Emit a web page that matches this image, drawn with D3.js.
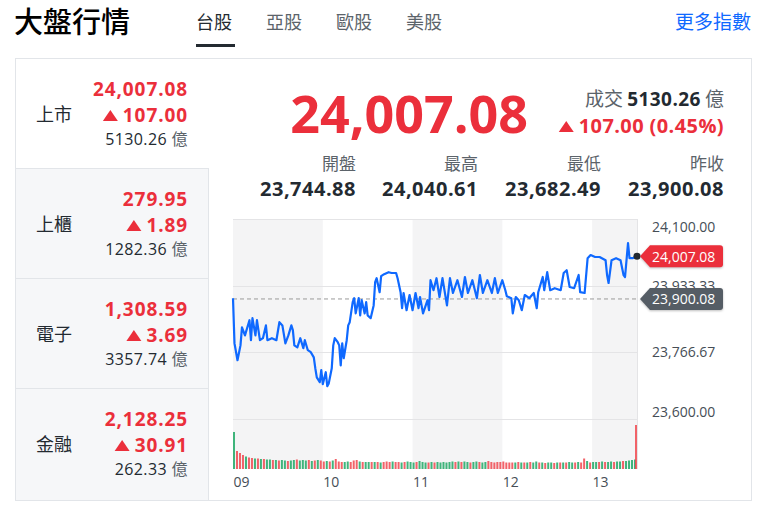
<!DOCTYPE html>
<html>
<head>
<meta charset="utf-8">
<script src="https://cdn.jsdelivr.net/npm/d3@7"></script>
<style>
  body { margin: 0; background: #fff; }
  svg text { font-family: "Open Sans", "Noto Sans CJK TC", sans-serif; }
  svg text.cjk, svg tspan.cjk { font-family: "Noto Sans CJK TC", "Open Sans", sans-serif; }
</style>
</head>
<body>
<svg id="chart" width="767" height="516"></svg>
<script>
// ---- data ----
const tabs = ["台股", "亞股", "歐股", "美股"];
const indexNames = ["上市", "上櫃", "電子", "金融"];
const indexPrices = ["24,007.08", "279.95", "1,308.59", "2,128.25"];
const indexChanges = ["107.00", "1.89", "3.69", "30.91"];
const indexVolumes = ["5130.26", "1282.36", "3357.74", "262.33"];
const statLabels = ["開盤", "最高", "最低", "昨收"];
const statValues = [23744.88, 24040.61, 23682.49, 23900.08];
const lastPrice = 24007.08;
const prevClose = 23900.08;
const priceChange = 107.00;
const changePct = 0.45;
const turnover = "5130.26";
const yTicks = [23600, 23766.67, 23933.33, 24100];
const hourTicks = [0, 60, 120, 180, 240];
const hourLabels = ["09", "10", "11", "12", "13"];

// minutes after 09:00 and index level
const priceMinutes = [0,1,3,5,6,8,11,12,13,15,16,18,20,22,23,26,29,31,33,35,37,39,40,41,43,45,47,48,50,52,
  54,55,56,58,59,60,62,63,64,66,67,68,70,71,72,73,74,76,77,78,80,81,82,84,85,86,88,89,90,92,
  94,95,96,98,99,101,104,106,109,110,112,113,114,116,118,120,122,124,125,127,130,131,132,134,136,138,140,143,145,147,
  150,153,155,157,160,163,165,167,170,173,175,177,180,182,183,186,187,189,191,193,195,198,201,203,204,207,208,210,212,215,
  219,221,223,225,228,231,232,235,237,239,242,245,249,250,251,253,256,259,261,262,264,265,267,270];
const priceValues = [23902,23789,23747,23784,23829,23809,23847,23797,23852,23809,23847,23797,23802,23834,23797,23802,23797,23842,23834,23789,23809,23834,23822,23784,23779,23802,23777,23797,23772,23767,
  23754,23727,23704,23692,23722,23687,23717,23682,23689,23727,23784,23802,23792,23784,23734,23789,23752,23797,23834,23842,23892,23902,23864,23902,23859,23897,23864,23892,23859,23852,
  23884,23942,23952,23917,23957,23962,23967,23965,23965,23952,23917,23877,23915,23872,23910,23872,23915,23877,23905,23864,23897,23872,23947,23922,23952,23905,23952,23884,23952,23915,
  23947,23905,23955,23915,23947,23902,23960,23915,23947,23915,23952,23915,23947,23922,23907,23902,23864,23905,23897,23872,23910,23902,23915,23877,23917,23955,23922,23967,23922,23927,
  23922,23965,23972,23930,23927,23960,23917,23915,24002,24010,24005,24005,23997,23960,23940,23997,24002,23997,23960,23955,24040,24002,24002,24007.08];

// volume every 2 minutes, last bar is the 13:30 close
const volumeMinutes = d3.range(0, 270, 2).concat([270]);
const volumeValues = [148,72,64,56,50,46,44,42,42,40,
  40,38,38,36,36,34,36,34,32,34,
  36,38,34,36,34,36,32,34,36,34,
  30,32,30,34,40,30,28,28,30,28,
  34,36,30,28,28,28,28,28,28,26,
  28,30,28,30,28,28,26,28,30,28,
  26,28,32,28,26,26,28,26,28,26,
  28,26,28,30,28,30,28,30,28,26,
  28,30,28,26,28,32,28,26,28,28,
  30,26,26,26,26,28,26,26,26,28,
  26,30,26,26,24,26,26,24,26,26,
  26,26,28,26,26,28,26,42,32,26,
  28,28,28,30,28,28,30,28,30,30,
  32,32,34,36,38,176];
const volumeSides = ["d","uuuduud","ududdud","udduddu","dddud","udu","ududuu","udduuu","duddud","uduuud",
  "uududd","dudddu","dudddd","ddudud","duddud","duuuuu","uuuudu","dududd","ududdu","dududd",
  "uduudu","ddudud","duddud","ddd","u"].join("").split("");

// ---- styles ----
const RED = "#eb2f3b";
const DARK = "#232a31";
const GRAY = "#5b636a";
const BLUE = "#0f69ff";

const svg = d3.select("#chart");

// header
svg.append("text").attr("class", "cjk")
  .attr("x", 14).attr("y", 33)
  .attr("font-size", 29).attr("font-weight", 500).attr("fill", "#000")
  .text("大盤行情");

svg.selectAll(".tab").data(tabs).enter().append("text")
  .attr("class", "cjk tab")
  .attr("x", (d, i) => 196 + i * 70).attr("y", 29)
  .attr("font-size", 18)
  .attr("fill", (d, i) => i === 0 ? DARK : GRAY)
  .text(d => d);
svg.append("rect").attr("x", 196).attr("y", 44).attr("width", 39).attr("height", 3).attr("fill", DARK);

svg.append("text").attr("class", "cjk")
  .attr("x", 751).attr("y", 29).attr("text-anchor", "end")
  .attr("font-size", 19).attr("fill", BLUE)
  .text("更多指數");

// panel
svg.append("rect")
  .attr("x", 15.5).attr("y", 58.5).attr("width", 736).attr("height", 442)
  .attr("fill", "none").attr("stroke", "#e2e5e9");

function upTriangle(g, xRight, y) {
  g.append("path")
    .attr("d", `M${xRight - 15},${y - 1}L${xRight},${y - 1}L${xRight - 7.5},${y - 12}Z`)
    .attr("fill", RED);
}

function changeText(g, xRight, y, str, size, spacing) {
  const t = g.append("text")
    .attr("x", xRight).attr("y", y).attr("text-anchor", "end")
    .attr("font-size", size).attr("font-weight", 700).attr("fill", RED)
    .attr("letter-spacing", spacing)
    .text(str);
  const w = t.node().getComputedTextLength();
  upTriangle(g, xRight - w - 5, y);
}

// left column
const rowTops = [58, 168, 278, 388];
const left = svg.append("g");
rowTops.forEach((top, i) => {
  const h = i === 3 ? 500 - top : 110;
  left.append("rect")
    .attr("x", 16).attr("y", top + 1).attr("width", 192).attr("height", h - 1)
    .attr("fill", i === 0 ? "#fff" : "#f6f7f9");
  if (i > 0) {
    left.append("line").attr("x1", 16).attr("x2", 208).attr("y1", top + 0.5).attr("y2", top + 0.5)
      .attr("stroke", "#e2e5e9");
  }
  left.append("text").attr("class", "cjk")
    .attr("x", 36).attr("y", top + 55).attr("dominant-baseline", "central")
    .attr("font-size", 18).attr("fill", DARK)
    .text(indexNames[i]);
  left.append("text")
    .attr("x", 188).attr("y", top + 38).attr("text-anchor", "end")
    .attr("font-size", 19).attr("font-weight", 700).attr("fill", RED)
    .attr("letter-spacing", 0.9)
    .text(indexPrices[i]);
  changeText(left, 188, top + 64, indexChanges[i], 19, 0.9);
  const v = left.append("text")
    .attr("x", 188).attr("y", top + 87).attr("text-anchor", "end")
    .attr("font-size", 16).attr("fill", DARK)
    .attr("letter-spacing", 0.4);
  v.append("tspan").text(indexVolumes[i] + " ");
  v.append("tspan").attr("class", "cjk").attr("fill", GRAY).text("億");
});
left.append("line").attr("x1", 208.5).attr("x2", 208.5).attr("y1", 168).attr("y2", 500)
  .attr("stroke", "#e2e5e9");

// quote block
svg.append("text")
  .attr("x", 528).attr("y", 133).attr("text-anchor", "end")
  .attr("font-size", 52).attr("font-weight", 700).attr("fill", RED)
  .text(d3.format(",.2f")(lastPrice));

const tv = svg.append("text")
  .attr("x", 724).attr("y", 106).attr("text-anchor", "end")
  .attr("font-size", 19).attr("fill", GRAY);
tv.append("tspan").attr("class", "cjk").text("成交 ");
tv.append("tspan").attr("font-weight", 700).attr("fill", DARK).attr("letter-spacing", 0.4).text(turnover);
tv.append("tspan").attr("class", "cjk").text(" 億");

changeText(svg, 724, 133, `${priceChange.toFixed(2)} (${changePct.toFixed(2)}%)`, 20, 0.4);

const statX = [356, 478, 601, 724];
svg.selectAll(".statLabel").data(statLabels).enter().append("text")
  .attr("class", "cjk statLabel")
  .attr("x", (d, i) => statX[i]).attr("y", 170).attr("text-anchor", "end")
  .attr("font-size", 17).attr("fill", GRAY)
  .text(d => d);
svg.selectAll(".statValue").data(statValues).enter().append("text")
  .attr("class", "statValue")
  .attr("x", (d, i) => statX[i]).attr("y", 196).attr("text-anchor", "end")
  .attr("font-size", 20).attr("font-weight", 700).attr("fill", DARK)
  .attr("letter-spacing", 0.5)
  .text(d => d3.format(",.2f")(d));

// chart
const plot = { left: 233, right: 637, top: 219, priceBottom: 419, volTop: 424, bottom: 469 };
const x = d3.scaleLinear().domain([0, 270]).range([plot.left, plot.right]);
const y = d3.scaleLinear().domain([23600, 24100]).range([plot.priceBottom, plot.top]);
const yVol = d3.scaleLinear().domain([0, 180]).range([plot.bottom, plot.volTop]);

const chart = svg.append("g");

// alternating hour bands
[[0, 60], [120, 180], [240, 270]].forEach(b => {
  chart.append("rect")
    .attr("x", x(b[0])).attr("y", plot.top)
    .attr("width", x(b[1]) - x(b[0])).attr("height", plot.bottom - plot.top)
    .attr("fill", "#f4f4f5");
});

chart.selectAll(".grid").data(yTicks).enter().append("line")
  .attr("x1", plot.left).attr("x2", plot.right)
  .attr("y1", d => Math.round(y(d)) + 0.5).attr("y2", d => Math.round(y(d)) + 0.5)
  .attr("stroke", "#e4e4e6");
chart.append("line")
  .attr("x1", plot.right + 0.5).attr("x2", plot.right + 0.5)
  .attr("y1", plot.top).attr("y2", plot.bottom)
  .attr("stroke", "#e4e4e6");

// volume
chart.selectAll(".vol").data(volumeValues).enter().append("rect")
  .attr("x", (d, i) => i === volumeValues.length - 1 ? x(volumeMinutes[i]) - 2 : x(volumeMinutes[i]))
  .attr("y", d => yVol(d))
  .attr("width", 2)
  .attr("height", d => plot.bottom - yVol(d))
  .attr("fill", (d, i) => volumeSides[i] === "u" ? "#f0484f" : "#1fa865")
  .attr("opacity", 0.85);

// previous close
chart.append("line")
  .attr("x1", plot.left).attr("x2", plot.right)
  .attr("y1", y(prevClose)).attr("y2", y(prevClose))
  .attr("stroke", "#9a9a9a").attr("stroke-dasharray", "4,3");

// price line
const line = d3.line()
  .x((d, i) => x(priceMinutes[i]))
  .y(d => y(d));
chart.append("path")
  .datum(priceValues)
  .attr("d", line)
  .attr("fill", "none")
  .attr("stroke", BLUE)
  .attr("stroke-width", 2.2)
  .attr("stroke-linejoin", "round");

chart.append("circle")
  .attr("cx", x(270)).attr("cy", y(lastPrice)).attr("r", 3.5)
  .attr("fill", DARK);

// y axis
const yAxisGroup = chart.append("g")
  .attr("transform", `translate(648,0)`)
  .call(d3.axisRight(y).tickValues(yTicks).tickSize(0).tickPadding(4).tickFormat(d3.format(",.2f")));
yAxisGroup.select(".domain").remove();
yAxisGroup.selectAll("text")
  .attr("font-size", 14).attr("fill", "#464e56")
  .style("font-family", '"Open Sans", sans-serif')
  .attr("dy", d => d === 24100 ? "0.9em" : d === 23600 ? "-0.15em" : "0.32em");

// time axis
const xAxisGroup = chart.append("g")
  .attr("transform", `translate(0,${plot.bottom})`)
  .call(d3.axisBottom(x).tickValues(hourTicks).tickSize(0).tickPadding(8)
    .tickFormat((d, i) => hourLabels[i]));
xAxisGroup.select(".domain").remove();
xAxisGroup.selectAll("text")
  .attr("text-anchor", "start")
  .attr("font-size", 14).attr("fill", "#464e56")
  .style("font-family", '"Open Sans", sans-serif');

// price tags
function tag(value, color) {
  const cy = y(value);
  chart.append("path")
    .attr("d", `M640,${cy}L650,${cy - 11}L720,${cy - 11}Q723,${cy - 11} 723,${cy - 8}L723,${cy + 8}Q723,${cy + 11} 720,${cy + 11}L650,${cy + 11}Z`)
    .attr("fill", color)
    .style("filter", "drop-shadow(0 1px 1px rgba(0,0,0,0.25))");
  chart.append("text")
    .attr("x", 652).attr("y", cy).attr("dominant-baseline", "central")
    .attr("font-size", 14).attr("fill", "#fff")
    .text(d3.format(",.2f")(value));
}
tag(prevClose, "#555d65");
tag(lastPrice, RED);
</script>
</body>
</html>
